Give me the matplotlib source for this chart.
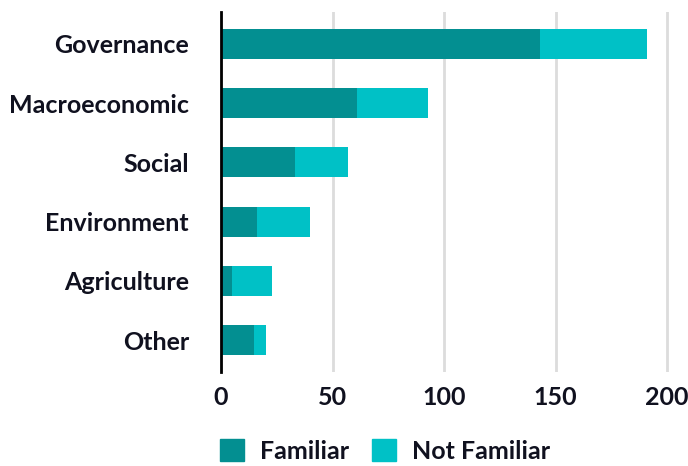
import matplotlib.pyplot as plt
from matplotlib.patches import Patch

plt.rcParams['font.family'] = ['Lato', 'DejaVu Sans']

categories = ["Governance", "Macroeconomic", "Social", "Environment", "Agriculture", "Other"]
familiar = [143, 61, 33, 16, 5, 15]
not_familiar = [48, 32, 24, 24, 18, 5]

c_fam = "#038f91"
c_not = "#00c1c6"
txt = "#10111f"

fig = plt.figure(figsize=(6.88, 4.66), dpi=100)
ax = fig.add_axes([221 / 688, 1 - 372 / 466, (686 - 221) / 688, (372 - 12) / 466])

y = range(len(categories))
ax.barh(y, familiar, height=0.51, color=c_fam, zorder=2)
ax.barh(y, not_familiar, left=familiar, height=0.51, color=c_not, zorder=2)

ax.set_ylim(len(categories) - 0.46, -0.54)
ax.set_xlim(0, 208.5)
ax.set_yticks(list(y))
ax.set_yticklabels(categories, fontsize=18, fontweight='bold', color=txt)
ax.set_xticks([0, 50, 100, 150, 200])
ax.tick_params(axis='x', labelsize=18, colors=txt, length=0, pad=10)
ax.tick_params(axis='y', length=0, pad=23)
for lbl in ax.get_xticklabels():
    lbl.set_fontweight('bold')

ax.grid(axis='x', color='#dcdcdc', linewidth=2, zorder=0)
for s in ['top', 'right', 'bottom']:
    ax.spines[s].set_visible(False)
ax.spines['left'].set_linewidth(2)
ax.spines['left'].set_color('black')
ax.spines['left'].set_zorder(3)

handles = [Patch(color=c_fam, label="Familiar"), Patch(color=c_not, label="Not Familiar")]
leg = fig.legend(handles=handles, loc='lower left', bbox_to_anchor=(0.313, -0.004),
                 ncol=2, frameon=False, handlelength=0.95, handleheight=0.95,
                 handletextpad=0.65, columnspacing=0.9, borderaxespad=0,
                 borderpad=0.2, prop={'family': 'Lato', 'weight': 'bold', 'size': 18})
for t in leg.get_texts():
    t.set_color(txt)

fig.savefig("out.png", dpi=100)
